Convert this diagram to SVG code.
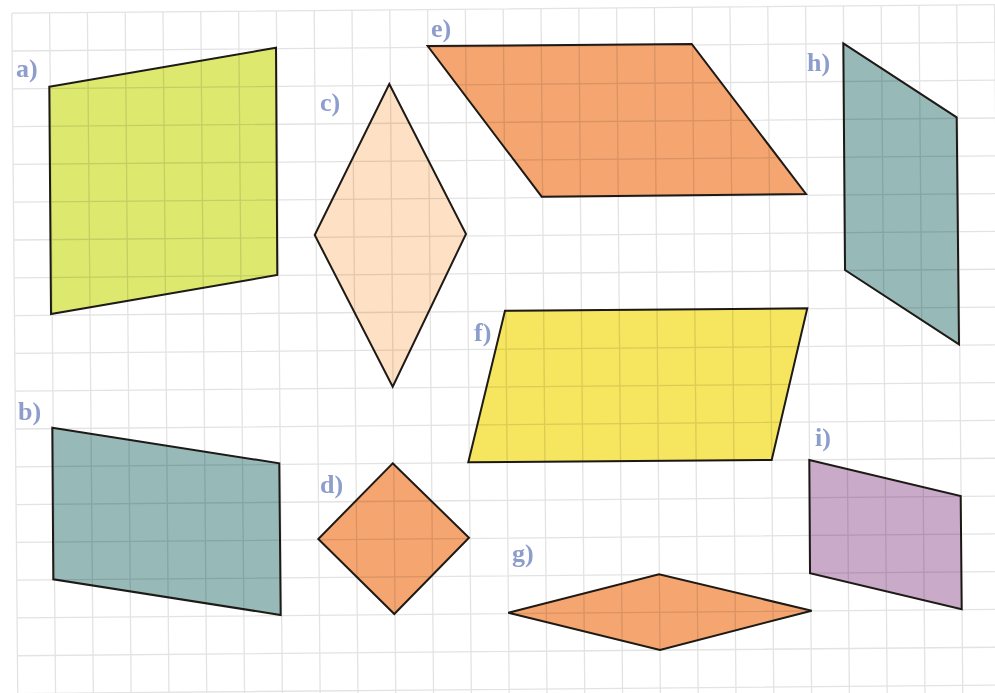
<svg xmlns="http://www.w3.org/2000/svg" width="995" height="693" viewBox="0 0 995 693">
  <style>
    .grid{fill:none;stroke:#e3e3e3;stroke-width:1.3}
    .shape{stroke:#1e1a16;stroke-width:2;stroke-linejoin:miter;mix-blend-mode:multiply}
    .lbl{font-family:"Liberation Serif","DejaVu Serif",serif;font-weight:bold;font-size:26px;fill:#8d9dcc}
    .yg{fill:#dde86e}
    .teal{fill:#97b9b8}
    .peach{fill:#fee1c4}
    .orange{fill:#f5a56f}
    .yellow{fill:#f6e55e}
    .mauve{fill:#c9aac9}
  </style>
  <rect x="0" y="0" width="995" height="693" fill="#ffffff"/>
  <g id="grid" transform="translate(0 1.6) rotate(-0.5)">
    <path class="grid" d="M11.7 11.7V700M49.5 11.7V700M87.3 11.7V700M125.1 11.7V700M162.9 11.7V700M200.7 11.7V700M238.5 11.7V700M276.3 11.7V700M314.1 11.7V700M351.9 11.7V700M389.7 11.7V700M427.5 11.7V700M465.3 11.7V700M503.1 11.7V700M540.9 11.7V700M578.7 11.7V700M616.5 11.7V700M654.3 11.7V700M692.1 11.7V700M729.9 11.7V700M767.7 11.7V700M805.5 11.7V700M843.3 11.7V700M881.1 11.7V700M918.9 11.7V700M956.7 11.7V700M994.5 11.7V700"/>
    <path class="grid" d="M11.7 11.7H1000M11.7 49.5H1000M11.7 87.3H1000M11.7 125.1H1000M11.7 162.9H1000M11.7 200.7H1000M11.7 238.5H1000M11.7 276.3H1000M11.7 314.1H1000M11.7 351.9H1000M11.7 389.7H1000M11.7 427.5H1000M11.7 465.3H1000M11.7 503.1H1000M11.7 540.9H1000M11.7 578.7H1000M11.7 616.5H1000M11.7 654.3H1000M11.7 692.1H1000"/>
  </g>
  <g id="shape-a">
    <polygon class="shape yg" points="49.3,86.7 276,47.7 277.3,275 51,314"/>
    <text class="lbl" x="16" y="77">a)</text>
  </g>
  <g id="shape-b">
    <polygon class="shape teal" points="52.3,427.7 279.3,463.3 280.7,615 53.3,579.3"/>
    <text class="lbl" x="18" y="420">b)</text>
  </g>
  <g id="shape-c">
    <polygon class="shape peach" points="389.3,84 466,234 392.7,386.7 314.7,235"/>
    <text class="lbl" x="320" y="111">c)</text>
  </g>
  <g id="shape-d">
    <polygon class="shape orange" points="392.7,463.3 469,537.7 394.3,614 318.3,539"/>
    <text class="lbl" x="320" y="493">d)</text>
  </g>
  <g id="shape-e">
    <polygon class="shape orange" points="427.7,46 691.7,44 806,194 541.7,196.7"/>
    <text class="lbl" x="431" y="37">e)</text>
  </g>
  <g id="shape-f">
    <polygon class="shape yellow" points="505,310.7 807.3,308.3 771.7,460 468.3,462.3"/>
    <text class="lbl" x="474" y="341">f)</text>
  </g>
  <g id="shape-g">
    <polygon class="shape orange" points="508.3,612.7 659,574.3 811.7,610.7 660,650"/>
    <text class="lbl" x="512" y="562">g)</text>
  </g>
  <g id="shape-h">
    <polygon class="shape teal" points="843.3,43.3 956.7,117.3 959,344.3 845,270"/>
    <text class="lbl" x="807" y="71">h)</text>
  </g>
  <g id="shape-i">
    <polygon class="shape mauve" points="809.3,460 960.7,496 961.7,609.3 810,573.3"/>
    <text class="lbl" x="815" y="446">i)</text>
  </g>
</svg>
